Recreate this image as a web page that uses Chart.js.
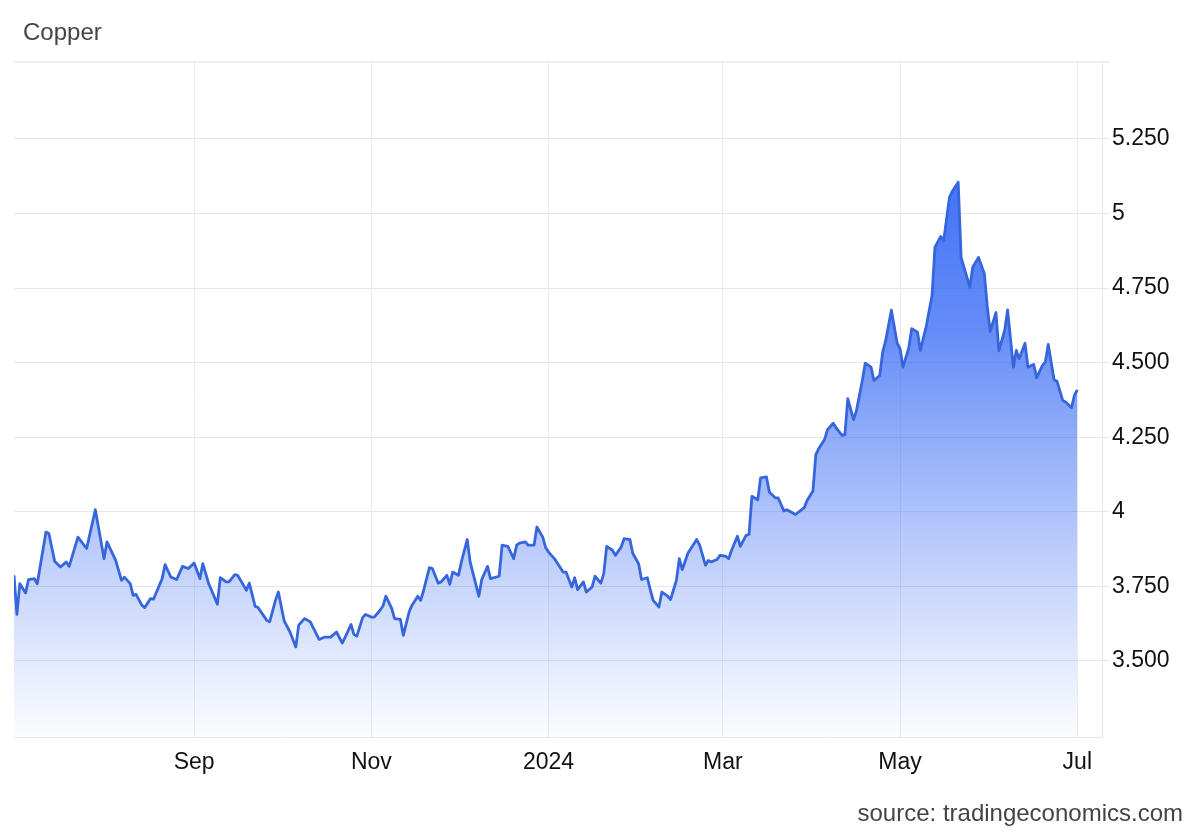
<!DOCTYPE html>
<html>
<head>
<meta charset="utf-8">
<script src="https://cdn.jsdelivr.net/npm/chart.js@4.4.1/dist/chart.umd.min.js"></script>
<style>
  html, body { margin: 0; padding: 0; background: #fff; }
  #wrap { position: relative; width: 1200px; height: 832px; }
  #title { position: absolute; left: 23px; top: 20px; font-family: "Liberation Sans", Arial, sans-serif; font-size: 24px; line-height: 24px; color: #444; }
  #source { position: absolute; right: 17px; top: 801px; font-family: "Liberation Sans", Arial, sans-serif; font-size: 24px; line-height: 24px; color: #444; }
</style>
</head>
<body>
<div id="wrap">
  <canvas id="lineGraph" width="1200" height="832"></canvas>
  <div id="title">Copper</div>
  <div id="source">source: tradingeconomics.com</div>
</div>
<script>
// Copper price, USD/lb
const dates = [
  '2023-07-01','2023-07-02','2023-07-03','2023-07-05','2023-07-06','2023-07-08','2023-07-09','2023-07-12','2023-07-13','2023-07-15',
  '2023-07-17','2023-07-19','2023-07-20','2023-07-23','2023-07-26','2023-07-29','2023-08-01','2023-08-02','2023-08-05','2023-08-07',
  '2023-08-08','2023-08-10','2023-08-11','2023-08-12','2023-08-14','2023-08-15','2023-08-17','2023-08-18','2023-08-21','2023-08-22',
  '2023-08-24','2023-08-26','2023-08-28','2023-08-30','2023-09-01','2023-09-03','2023-09-04','2023-09-06','2023-09-07','2023-09-09',
  '2023-09-10','2023-09-12','2023-09-13','2023-09-15','2023-09-16','2023-09-19','2023-09-20','2023-09-22','2023-09-23','2023-09-26',
  '2023-09-27','2023-09-29','2023-09-30','2023-10-02','2023-10-04','2023-10-06','2023-10-07','2023-10-09','2023-10-11','2023-10-14',
  '2023-10-16','2023-10-18','2023-10-20','2023-10-22','2023-10-23','2023-10-25','2023-10-26','2023-10-27','2023-10-29','2023-10-30',
  '2023-11-01','2023-11-02','2023-11-04','2023-11-05','2023-11-06','2023-11-08','2023-11-09','2023-11-11','2023-11-12','2023-11-14',
  '2023-11-15','2023-11-17','2023-11-18','2023-11-19','2023-11-21','2023-11-22','2023-11-24','2023-11-25','2023-11-27','2023-11-28',
  '2023-11-29','2023-12-01','2023-12-02','2023-12-04','2023-12-05','2023-12-08','2023-12-09','2023-12-11','2023-12-12','2023-12-15',
  '2023-12-16','2023-12-18','2023-12-20','2023-12-21','2023-12-22','2023-12-24','2023-12-25','2023-12-27','2023-12-28','2023-12-30',
  '2023-12-31','2024-01-01','2024-01-03','2024-01-04','2024-01-06','2024-01-07','2024-01-09','2024-01-10','2024-01-11','2024-01-13',
  '2024-01-14','2024-01-16','2024-01-17','2024-01-19','2024-01-20','2024-01-21','2024-01-23','2024-01-24','2024-01-26','2024-01-27',
  '2024-01-29','2024-01-30','2024-02-01','2024-02-02','2024-02-04','2024-02-05','2024-02-06','2024-02-08','2024-02-09','2024-02-11',
  '2024-02-12','2024-02-14','2024-02-15','2024-02-16','2024-02-18','2024-02-19','2024-02-21','2024-02-22','2024-02-24','2024-02-25',
  '2024-02-26','2024-02-28','2024-02-29','2024-03-02','2024-03-03','2024-03-04','2024-03-06','2024-03-07','2024-03-09','2024-03-10',
  '2024-03-11','2024-03-13','2024-03-14','2024-03-16','2024-03-17','2024-03-19','2024-03-20','2024-03-22','2024-03-23','2024-03-26',
  '2024-03-29','2024-03-30','2024-04-01','2024-04-02','2024-04-03','2024-04-05','2024-04-06','2024-04-08','2024-04-09','2024-04-11',
  '2024-04-12','2024-04-13','2024-04-15','2024-04-16','2024-04-18','2024-04-19','2024-04-21','2024-04-22','2024-04-24','2024-04-25',
  '2024-04-26','2024-04-28','2024-04-30','2024-05-01','2024-05-02','2024-05-04','2024-05-05','2024-05-07','2024-05-08','2024-05-10',
  '2024-05-12','2024-05-13','2024-05-15','2024-05-16','2024-05-18','2024-05-19','2024-05-21','2024-05-22','2024-05-25','2024-05-26',
  '2024-05-28','2024-05-30','2024-05-31','2024-06-01','2024-06-03','2024-06-04','2024-06-06','2024-06-07','2024-06-09','2024-06-10',
  '2024-06-11','2024-06-13','2024-06-14','2024-06-16','2024-06-17','2024-06-19','2024-06-20','2024-06-21','2024-06-23','2024-06-24',
  '2024-06-26','2024-06-27','2024-06-29','2024-06-30','2024-07-01'
];
const prices = [
  3.787, 3.656, 3.759, 3.728, 3.773, 3.776, 3.759, 3.932, 3.927, 3.834,
  3.815, 3.832, 3.817, 3.915, 3.877, 4.007, 3.843, 3.899, 3.837, 3.770,
  3.781, 3.759, 3.720, 3.723, 3.687, 3.679, 3.709, 3.707, 3.776, 3.823,
  3.781, 3.773, 3.817, 3.810, 3.828, 3.776, 3.826, 3.759, 3.737, 3.690,
  3.779, 3.765, 3.765, 3.789, 3.787, 3.737, 3.761, 3.683, 3.679, 3.636,
  3.631, 3.703, 3.731, 3.634, 3.597, 3.547, 3.620, 3.642, 3.631, 3.572,
  3.580, 3.580, 3.597, 3.560, 3.580, 3.622, 3.589, 3.583, 3.645, 3.656,
  3.647, 3.647, 3.670, 3.684, 3.717, 3.676, 3.642, 3.639, 3.586, 3.664,
  3.687, 3.717, 3.703, 3.737, 3.813, 3.810, 3.761, 3.765, 3.787, 3.757,
  3.798, 3.787, 3.832, 3.907, 3.832, 3.717, 3.773, 3.817, 3.776, 3.784,
  3.888, 3.884, 3.843, 3.888, 3.895, 3.899, 3.888, 3.888, 3.949, 3.915,
  3.880, 3.865, 3.843, 3.828, 3.798, 3.798, 3.748, 3.779, 3.739, 3.765,
  3.731, 3.748, 3.784, 3.761, 3.793, 3.884, 3.871, 3.854, 3.882, 3.910,
  3.907, 3.860, 3.826, 3.773, 3.779, 3.739, 3.703, 3.681, 3.731, 3.717,
  3.706, 3.770, 3.843, 3.806, 3.862, 3.877, 3.907, 3.888, 3.821, 3.837,
  3.832, 3.840, 3.854, 3.851, 3.843, 3.871, 3.918, 3.884, 3.921, 3.924,
  4.052, 4.040, 4.114, 4.117, 4.066, 4.047, 4.047, 4.003, 4.007, 3.991,
  4.014, 4.038, 4.070, 4.192, 4.212, 4.242, 4.275, 4.297, 4.281, 4.256,
  4.259, 4.379, 4.309, 4.340, 4.440, 4.498, 4.485, 4.440, 4.457, 4.535,
  4.572, 4.676, 4.565, 4.547, 4.485, 4.550, 4.614, 4.602, 4.541, 4.622,
  4.725, 4.887, 4.923, 4.909, 5.054, 5.075, 5.105, 4.853, 4.753, 4.820,
  4.853, 4.798, 4.690, 4.605, 4.668, 4.540, 4.608, 4.677, 4.485, 4.541,
  4.513, 4.565, 4.485, 4.494, 4.449, 4.491, 4.502, 4.561, 4.443, 4.438,
  4.373, 4.368, 4.349, 4.390, 4.409
];
const monthTickDates = ['2023-09-01', '2023-11-01', '2024-01-01', '2024-03-01', '2024-05-01', '2024-07-01'];
const monthTickLabels = ['Sep', 'Nov', '2024', 'Mar', 'May', 'Jul'];
const priceTicks = [3.5, 3.75, 4, 4.25, 4.5, 4.75, 5, 5.25];
const priceTickLabels = ['3.500', '3.750', '4', '4.250', '4.500', '4.750', '5', '5.250'];

const startDay = Date.UTC(2023, 6, 1);
function dayOffset(s) {
    let p = s.split('-').map(Number);
    return (Date.UTC(p[0], p[1] - 1, p[2]) - startDay) / 86400000;
}

let points = [];
for (let i = 0; i < dates.length; i++) {
    points.push({x: dayOffset(dates[i]), y: prices[i]});
}
let tickDays = monthTickDates.map(dayOffset);

// top frame line (Highcharts-like plot border)
const frameLine = {
    id: 'frameLine',
    beforeDatasetsDraw(chart) {
        const ctx = chart.ctx, a = chart.chartArea;
        ctx.save();
        ctx.strokeStyle = '#e8e8e8';
        ctx.lineWidth = 1.5;
        ctx.beginPath();
        ctx.moveTo(a.left, a.top);
        ctx.lineTo(a.right + 8, a.top);
        ctx.stroke();
        ctx.restore();
    }
};

Chart.defaults.font.family = '"Liberation Sans", Arial, sans-serif';
Chart.defaults.font.size = 23;
Chart.defaults.color = '#111';

const lineCtx = document.getElementById('lineGraph').getContext('2d');
let lineChartInst = new Chart(lineCtx, {
    type: 'line',
    data: {
        datasets: [{
            label: 'Copper',
            data: points,
            borderColor: '#3566dc',
            borderWidth: 2.8,
            borderJoinStyle: 'round',
            pointRadius: 0,
            tension: 0,
            fill: 'start',
            backgroundColor: function (context) {
                const area = context.chart.chartArea;
                if (!area) {
                    return 'rgba(50,105,240,0.3)';
                }
                let g = context.chart.ctx.createLinearGradient(0, area.top, 0, area.bottom);
                g.addColorStop(0, 'rgba(40,95,245,1)');
                g.addColorStop(0.4, 'rgba(50,102,245,0.75)');
                g.addColorStop(1, 'rgba(80,125,245,0.02)');
                return g;
            }
        }]
    },
    options: {
        responsive: false,
        animation: false,
        layout: {padding: {left: 14, top: 62, right: 0, bottom: 0}},
        plugins: {legend: {display: false}, tooltip: {enabled: false}},
        scales: {
            x: {
                type: 'linear',
                min: 0,
                max: 374.5,
                afterBuildTicks: (axis) => { axis.ticks = tickDays.map(v => ({value: v})); },
                afterFit: (axis) => { axis.height = 95; },
                grid: {color: '#ececec', drawTicks: false},
                border: {color: '#e6e6e6'},
                ticks: {
                    padding: 12,
                    maxRotation: 0,
                    autoSkip: false,
                    callback: (value, index) => monthTickLabels[index]
                }
            },
            y: {
                type: 'linear',
                position: 'right',
                min: 3.245,
                max: 5.508,
                afterBuildTicks: (axis) => { axis.ticks = priceTicks.map(v => ({value: v})); },
                afterFit: (axis) => { axis.width = 98; },
                grid: {color: '#e6e6e6', tickLength: 7},
                border: {color: '#e6e6e6'},
                ticks: {
                    padding: 3,
                    callback: (value, index) => priceTickLabels[index]
                }
            }
        }
    },
    plugins: [frameLine]
});
</script>
</body>
</html>
